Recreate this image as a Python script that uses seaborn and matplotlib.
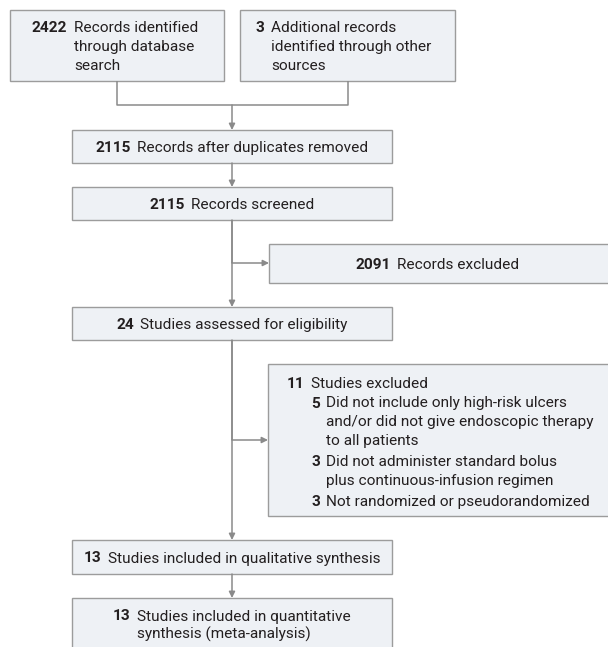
import matplotlib
matplotlib.use("Agg")
import matplotlib.pyplot as plt
from matplotlib.patches import Rectangle
import seaborn as sns

# box contents (counts + labels)
id_counts = [2422, 3]
id_labels = [["Records identified", "through database", "search"],
             ["Additional records", "identified through other", "sources"]]
dedup_count = 2115
dedup_label = "Records after duplicates removed"
screened_count = 2115
screened_label = "Records screened"
excluded_count = 2091
excluded_label = "Records excluded"
eligible_count = 24
eligible_label = "Studies assessed for eligibility"
studies_excl_count = 11
studies_excl_label = "Studies excluded"
reason_counts = [5, 3, 3]
reason_labels = [["Did not include only high-risk ulcers",
                  "and/or did not give endoscopic therapy",
                  "to all patients"],
                 ["Did not administer standard bolus",
                  "plus continuous-infusion regimen"],
                 ["Not randomized or pseudorandomized"]]
qual_count = 13
qual_label = "Studies included in qualitative synthesis"
quant_count = 13
quant_label = ["Studies included in quantitative", "synthesis (meta-analysis)"]

FILL = "#eef1f5"
EDGE = "#9c9c9c"
LINE = "#8a8a8a"
INK = "#231f20"
FS = 11.1
LH = 18.5   # line height in px
BASE = 5.5  # line centre -> baseline, px

sns.set_theme(style="white")
plt.rcParams['font.family'] = ['Roboto', 'DejaVu Sans']

fig = plt.figure(figsize=(6.08, 6.47), dpi=100)
ax = fig.add_axes([0, 0, 1, 1])
ax.set_xlim(0, 608)
ax.set_ylim(647, 0)
ax.axis("off")
renderer = fig.canvas.get_renderer()


def box(x0, y0, x1, y1):
    ax.add_patch(Rectangle((x0, y0), x1 - x0, y1 - y0, facecolor=FILL,
                           edgecolor=EDGE, lw=1.0))


def width(t):
    return t.get_window_extent(renderer).width


def num_text(x, y, num, lines, cx=None, gap=6.5):
    """Bold count then regular text block with hanging indent."""
    t = ax.text(x, y + BASE, str(num), weight="bold", ha="left",
                va="baseline", fontsize=FS, color=INK)
    ts = [ax.text(0, y + BASE + i * LH, ln, ha="left", va="baseline",
                  fontsize=FS, color=INK) for i, ln in enumerate(lines)]
    nw = width(t)
    if cx is not None:
        total = nw + gap + max(width(s) for s in ts)
        x = cx - total / 2
        t.set_x(x)
    for s in ts:
        s.set_x(x + nw + gap)
    return x + nw + gap


def line(xs, ys):
    ax.plot(xs, ys, color=LINE, lw=1.1, solid_capstyle="butt")


def arrow(x0, y0, x1, y1):
    ax.annotate("", xy=(x1, y1), xytext=(x0, y0),
                arrowprops=dict(arrowstyle="-|>", color=LINE, lw=1.1,
                                mutation_scale=9, shrinkA=0, shrinkB=0))


# identification
box(10, 10, 224, 81)
box(240, 10, 455, 81)
num_text(32, 27, id_counts[0], id_labels[0])
num_text(256, 27, id_counts[1], id_labels[1])
line([117, 117, 348, 348], [81, 105, 105, 81])
arrow(232, 105, 232, 130)

box(72, 130, 392, 163)
num_text(0, 146.5, dedup_count, [dedup_label], cx=232)
arrow(232, 163, 232, 187)

box(72, 187, 392, 220)
num_text(0, 203.5, screened_count, [screened_label], cx=232)

box(269, 244, 640, 283)
num_text(0, 263.5, excluded_count, [excluded_label], cx=437)
line([232, 232], [220, 263])
arrow(232, 263, 269, 263)
arrow(232, 220, 232, 307)

box(72, 307, 392, 340)
num_text(0, 323.5, eligible_count, [eligible_label], cx=232)

# full-text exclusions
box(268, 364, 640, 516)
sx = num_text(287, 382, studies_excl_count, [studies_excl_label])
ry = 402
for c, lab in zip(reason_counts, reason_labels):
    num_text(sx, ry, c, lab)
    ry += LH * len(lab) + 3
line([232, 232], [340, 440])
arrow(232, 440, 268, 440)
arrow(232, 340, 232, 540)

box(72, 540, 392, 574)
num_text(0, 557, qual_count, [qual_label], cx=232)
arrow(232, 574, 232, 598)

box(72, 598, 392, 680)
num_text(0, 615, quant_count, quant_label, cx=232)

fig.savefig("out.png", dpi=100)
